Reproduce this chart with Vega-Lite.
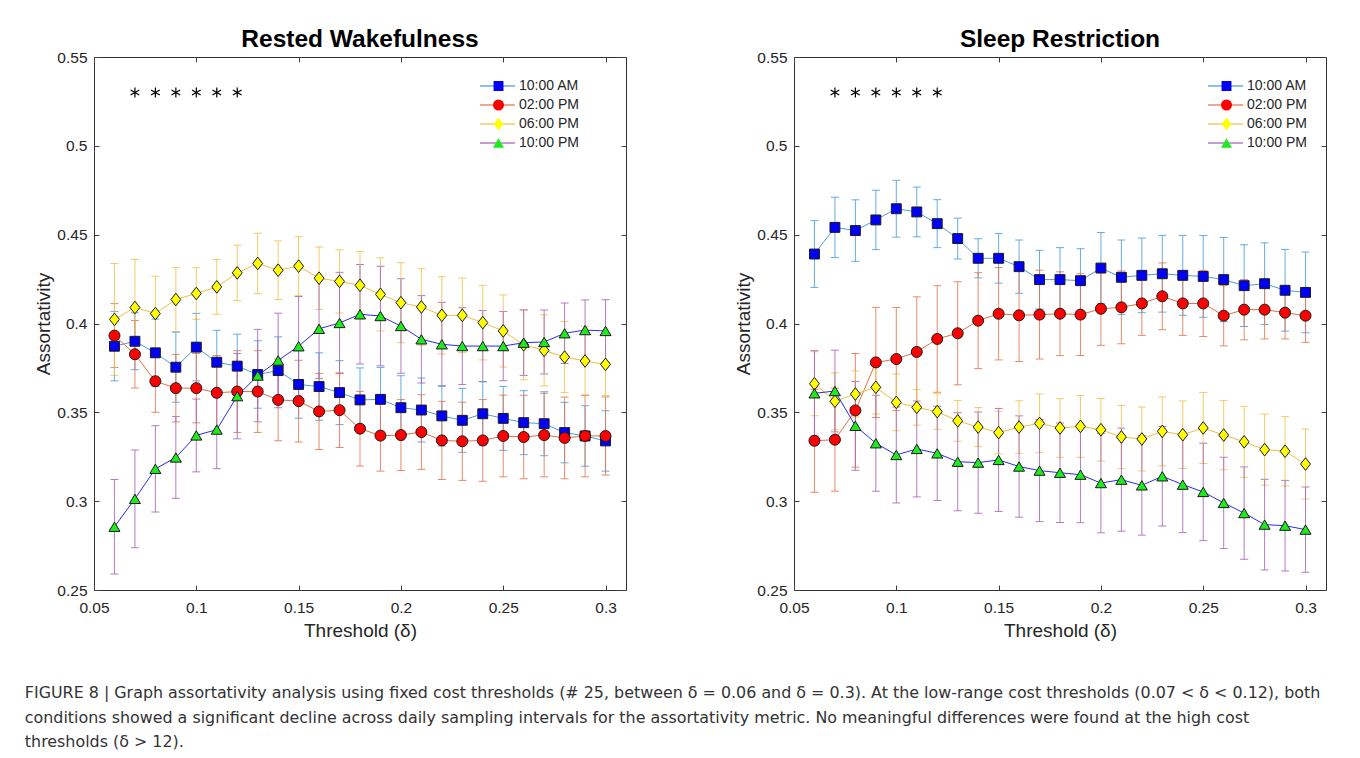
{
  "$schema": "https://vega.github.io/schema/vega-lite/v6.json",
  "padding": {"left": 24, "top": 26, "right": 0, "bottom": 0},
  "config": {
    "font": "Liberation Sans",
    "view": {"stroke": "#333333", "strokeWidth": 1},
    "axis": {"grid": false, "domain": false, "labelFont": "Liberation Sans", "labelFontSize": 15.5, "labelColor": "#262626", "tickColor": "#404040", "tickSize": -5, "tickWidth": 1, "titleFont": "Liberation Sans", "titleFontSize": 19, "titleFontWeight": "normal", "titleColor": "#262626", "labelFlush": false, "labelOverlap": false},
    "legend": {"labelFont": "Liberation Sans", "labelFontSize": 14, "labelColor": "#262626"}
  },
  "title": {
    "text": [
      "FIGURE 8 | Graph assortativity analysis using fixed cost thresholds (# 25, between δ = 0.06 and δ = 0.3). At the low-range cost thresholds (0.07 < δ < 0.12), both",
      "conditions showed a significant decline across daily sampling intervals for the assortativity metric. No meaningful differences were found at the high cost",
      "thresholds (δ > 12)."
    ],
    "orient": "bottom", "anchor": "start", "frame": "bounds", "offset": 44, "dx": -9.5,
    "fontSize": 15.9, "fontWeight": "normal", "lineHeight": 24.5, "color": "#333333", "font": "DejaVu Sans"
  },
  "datasets": {
    "stars": [
      {"threshold": 0.07, "value": 0.53}, {"threshold": 0.08, "value": 0.53}, {"threshold": 0.09, "value": 0.53},
      {"threshold": 0.1, "value": 0.53}, {"threshold": 0.11, "value": 0.53}, {"threshold": 0.12, "value": 0.53}
    ],
    "rw": [
      {"threshold":0.06,"time":"10:00 AM","value":0.3872,"err":0.0195},
      {"threshold":0.07,"time":"10:00 AM","value":0.3900,"err":0.016},
      {"threshold":0.08,"time":"10:00 AM","value":0.3835,"err":0.019},
      {"threshold":0.09,"time":"10:00 AM","value":0.3754,"err":0.0197},
      {"threshold":0.10,"time":"10:00 AM","value":0.3867,"err":0.019},
      {"threshold":0.11,"time":"10:00 AM","value":0.3782,"err":0.018},
      {"threshold":0.12,"time":"10:00 AM","value":0.3760,"err":0.018},
      {"threshold":0.13,"time":"10:00 AM","value":0.3713,"err":0.019},
      {"threshold":0.14,"time":"10:00 AM","value":0.3735,"err":0.019},
      {"threshold":0.15,"time":"10:00 AM","value":0.3657,"err":0.019},
      {"threshold":0.16,"time":"10:00 AM","value":0.3645,"err":0.019},
      {"threshold":0.17,"time":"10:00 AM","value":0.3611,"err":0.018},
      {"threshold":0.18,"time":"10:00 AM","value":0.3570,"err":0.018},
      {"threshold":0.19,"time":"10:00 AM","value":0.3573,"err":0.018},
      {"threshold":0.20,"time":"10:00 AM","value":0.3526,"err":0.018},
      {"threshold":0.21,"time":"10:00 AM","value":0.3513,"err":0.018},
      {"threshold":0.22,"time":"10:00 AM","value":0.3480,"err":0.017},
      {"threshold":0.23,"time":"10:00 AM","value":0.3455,"err":0.018},
      {"threshold":0.24,"time":"10:00 AM","value":0.3492,"err":0.018},
      {"threshold":0.25,"time":"10:00 AM","value":0.3466,"err":0.018},
      {"threshold":0.26,"time":"10:00 AM","value":0.3442,"err":0.018},
      {"threshold":0.27,"time":"10:00 AM","value":0.3436,"err":0.018},
      {"threshold":0.28,"time":"10:00 AM","value":0.3386,"err":0.017},
      {"threshold":0.29,"time":"10:00 AM","value":0.3367,"err":0.017},
      {"threshold":0.30,"time":"10:00 AM","value":0.3339,"err":0.017},
      {"threshold":0.06,"time":"02:00 PM","value":0.3932,"err":0.018},
      {"threshold":0.07,"time":"02:00 PM","value":0.3827,"err":0.019},
      {"threshold":0.08,"time":"02:00 PM","value":0.3675,"err":0.0175},
      {"threshold":0.09,"time":"02:00 PM","value":0.3636,"err":0.019},
      {"threshold":0.10,"time":"02:00 PM","value":0.3636,"err":0.0195},
      {"threshold":0.11,"time":"02:00 PM","value":0.3610,"err":0.021},
      {"threshold":0.12,"time":"02:00 PM","value":0.3617,"err":0.023},
      {"threshold":0.13,"time":"02:00 PM","value":0.3617,"err":0.023},
      {"threshold":0.14,"time":"02:00 PM","value":0.3570,"err":0.023},
      {"threshold":0.15,"time":"02:00 PM","value":0.3563,"err":0.023},
      {"threshold":0.16,"time":"02:00 PM","value":0.3505,"err":0.0214},
      {"threshold":0.17,"time":"02:00 PM","value":0.3512,"err":0.021},
      {"threshold":0.18,"time":"02:00 PM","value":0.3408,"err":0.021},
      {"threshold":0.19,"time":"02:00 PM","value":0.3369,"err":0.020},
      {"threshold":0.20,"time":"02:00 PM","value":0.3372,"err":0.020},
      {"threshold":0.21,"time":"02:00 PM","value":0.3389,"err":0.021},
      {"threshold":0.22,"time":"02:00 PM","value":0.3342,"err":0.022},
      {"threshold":0.23,"time":"02:00 PM","value":0.3337,"err":0.022},
      {"threshold":0.24,"time":"02:00 PM","value":0.3342,"err":0.023},
      {"threshold":0.25,"time":"02:00 PM","value":0.3367,"err":0.023},
      {"threshold":0.26,"time":"02:00 PM","value":0.3361,"err":0.0235},
      {"threshold":0.27,"time":"02:00 PM","value":0.3372,"err":0.0235},
      {"threshold":0.28,"time":"02:00 PM","value":0.3356,"err":0.023},
      {"threshold":0.29,"time":"02:00 PM","value":0.3367,"err":0.023},
      {"threshold":0.30,"time":"02:00 PM","value":0.3367,"err":0.022},
      {"threshold":0.06,"time":"06:00 PM","value":0.4023,"err":0.0315},
      {"threshold":0.07,"time":"06:00 PM","value":0.4090,"err":0.027},
      {"threshold":0.08,"time":"06:00 PM","value":0.4056,"err":0.021},
      {"threshold":0.09,"time":"06:00 PM","value":0.4135,"err":0.018},
      {"threshold":0.10,"time":"06:00 PM","value":0.4169,"err":0.0145},
      {"threshold":0.11,"time":"06:00 PM","value":0.4206,"err":0.0154},
      {"threshold":0.12,"time":"06:00 PM","value":0.4285,"err":0.0156},
      {"threshold":0.13,"time":"06:00 PM","value":0.4338,"err":0.017},
      {"threshold":0.14,"time":"06:00 PM","value":0.4300,"err":0.0165},
      {"threshold":0.15,"time":"06:00 PM","value":0.4323,"err":0.0166},
      {"threshold":0.16,"time":"06:00 PM","value":0.4255,"err":0.0176},
      {"threshold":0.17,"time":"06:00 PM","value":0.4237,"err":0.0178},
      {"threshold":0.18,"time":"06:00 PM","value":0.4215,"err":0.019},
      {"threshold":0.19,"time":"06:00 PM","value":0.4164,"err":0.0206},
      {"threshold":0.20,"time":"06:00 PM","value":0.4117,"err":0.0225},
      {"threshold":0.21,"time":"06:00 PM","value":0.4093,"err":0.0216},
      {"threshold":0.22,"time":"06:00 PM","value":0.4046,"err":0.0218},
      {"threshold":0.23,"time":"06:00 PM","value":0.4046,"err":0.021},
      {"threshold":0.24,"time":"06:00 PM","value":0.4005,"err":0.021},
      {"threshold":0.25,"time":"06:00 PM","value":0.3958,"err":0.0203},
      {"threshold":0.26,"time":"06:00 PM","value":0.3880,"err":0.0197},
      {"threshold":0.27,"time":"06:00 PM","value":0.3849,"err":0.020},
      {"threshold":0.28,"time":"06:00 PM","value":0.3811,"err":0.020},
      {"threshold":0.29,"time":"06:00 PM","value":0.3789,"err":0.0195},
      {"threshold":0.30,"time":"06:00 PM","value":0.3770,"err":0.0175},
      {"threshold":0.06,"time":"10:00 PM","value":0.2856,"err":0.0266},
      {"threshold":0.07,"time":"10:00 PM","value":0.3013,"err":0.0275},
      {"threshold":0.08,"time":"10:00 PM","value":0.3182,"err":0.0243},
      {"threshold":0.09,"time":"10:00 PM","value":0.3246,"err":0.023},
      {"threshold":0.10,"time":"10:00 PM","value":0.3370,"err":0.0205},
      {"threshold":0.11,"time":"10:00 PM","value":0.3403,"err":0.022},
      {"threshold":0.12,"time":"10:00 PM","value":0.3591,"err":0.024},
      {"threshold":0.13,"time":"10:00 PM","value":0.3707,"err":0.026},
      {"threshold":0.14,"time":"10:00 PM","value":0.3792,"err":0.0266},
      {"threshold":0.15,"time":"10:00 PM","value":0.3872,"err":0.028},
      {"threshold":0.16,"time":"10:00 PM","value":0.3970,"err":0.028},
      {"threshold":0.17,"time":"10:00 PM","value":0.4003,"err":0.0285},
      {"threshold":0.18,"time":"10:00 PM","value":0.4052,"err":0.028},
      {"threshold":0.19,"time":"10:00 PM","value":0.4042,"err":0.028},
      {"threshold":0.20,"time":"10:00 PM","value":0.3986,"err":0.0266},
      {"threshold":0.21,"time":"10:00 PM","value":0.3911,"err":0.0246},
      {"threshold":0.22,"time":"10:00 PM","value":0.3883,"err":0.0236},
      {"threshold":0.23,"time":"10:00 PM","value":0.3873,"err":0.0216},
      {"threshold":0.24,"time":"10:00 PM","value":0.3873,"err":0.020},
      {"threshold":0.25,"time":"10:00 PM","value":0.3873,"err":0.0195},
      {"threshold":0.26,"time":"10:00 PM","value":0.3892,"err":0.0184},
      {"threshold":0.27,"time":"10:00 PM","value":0.3896,"err":0.018},
      {"threshold":0.28,"time":"10:00 PM","value":0.3945,"err":0.017},
      {"threshold":0.29,"time":"10:00 PM","value":0.3963,"err":0.017},
      {"threshold":0.30,"time":"10:00 PM","value":0.3958,"err":0.0176}
    ],
    "sr": [
      {"threshold":0.06,"time":"10:00 AM","value":0.4391,"err":0.0188},
      {"threshold":0.07,"time":"10:00 AM","value":0.4541,"err":0.017},
      {"threshold":0.08,"time":"10:00 AM","value":0.4523,"err":0.0173},
      {"threshold":0.09,"time":"10:00 AM","value":0.4583,"err":0.0167},
      {"threshold":0.10,"time":"10:00 AM","value":0.4646,"err":0.016},
      {"threshold":0.11,"time":"10:00 AM","value":0.4628,"err":0.014},
      {"threshold":0.12,"time":"10:00 AM","value":0.4562,"err":0.0135},
      {"threshold":0.13,"time":"10:00 AM","value":0.4478,"err":0.0115},
      {"threshold":0.14,"time":"10:00 AM","value":0.4367,"err":0.011},
      {"threshold":0.15,"time":"10:00 AM","value":0.4367,"err":0.014},
      {"threshold":0.16,"time":"10:00 AM","value":0.4320,"err":0.015},
      {"threshold":0.17,"time":"10:00 AM","value":0.4247,"err":0.0165},
      {"threshold":0.18,"time":"10:00 AM","value":0.4247,"err":0.018},
      {"threshold":0.19,"time":"10:00 AM","value":0.4241,"err":0.018},
      {"threshold":0.20,"time":"10:00 AM","value":0.4312,"err":0.020},
      {"threshold":0.21,"time":"10:00 AM","value":0.4260,"err":0.021},
      {"threshold":0.22,"time":"10:00 AM","value":0.4271,"err":0.021},
      {"threshold":0.23,"time":"10:00 AM","value":0.4280,"err":0.0216},
      {"threshold":0.24,"time":"10:00 AM","value":0.4271,"err":0.0225},
      {"threshold":0.25,"time":"10:00 AM","value":0.4265,"err":0.023},
      {"threshold":0.26,"time":"10:00 AM","value":0.4247,"err":0.0237},
      {"threshold":0.27,"time":"10:00 AM","value":0.4213,"err":0.023},
      {"threshold":0.28,"time":"10:00 AM","value":0.4224,"err":0.023},
      {"threshold":0.29,"time":"10:00 AM","value":0.4187,"err":0.023},
      {"threshold":0.30,"time":"10:00 AM","value":0.4175,"err":0.0227},
      {"threshold":0.06,"time":"02:00 PM","value":0.3340,"err":0.029},
      {"threshold":0.07,"time":"02:00 PM","value":0.3346,"err":0.029},
      {"threshold":0.08,"time":"02:00 PM","value":0.3511,"err":0.032},
      {"threshold":0.09,"time":"02:00 PM","value":0.3781,"err":0.031},
      {"threshold":0.10,"time":"02:00 PM","value":0.3800,"err":0.029},
      {"threshold":0.11,"time":"02:00 PM","value":0.3840,"err":0.031},
      {"threshold":0.12,"time":"02:00 PM","value":0.3913,"err":0.030},
      {"threshold":0.13,"time":"02:00 PM","value":0.3945,"err":0.029},
      {"threshold":0.14,"time":"02:00 PM","value":0.4016,"err":0.027},
      {"threshold":0.15,"time":"02:00 PM","value":0.4055,"err":0.026},
      {"threshold":0.16,"time":"02:00 PM","value":0.4046,"err":0.026},
      {"threshold":0.17,"time":"02:00 PM","value":0.4050,"err":0.025},
      {"threshold":0.18,"time":"02:00 PM","value":0.4055,"err":0.0236},
      {"threshold":0.19,"time":"02:00 PM","value":0.4050,"err":0.023},
      {"threshold":0.20,"time":"02:00 PM","value":0.4083,"err":0.0206},
      {"threshold":0.21,"time":"02:00 PM","value":0.4091,"err":0.0205},
      {"threshold":0.22,"time":"02:00 PM","value":0.4113,"err":0.018},
      {"threshold":0.23,"time":"02:00 PM","value":0.4153,"err":0.0188},
      {"threshold":0.24,"time":"02:00 PM","value":0.4113,"err":0.018},
      {"threshold":0.25,"time":"02:00 PM","value":0.4113,"err":0.0186},
      {"threshold":0.26,"time":"02:00 PM","value":0.4044,"err":0.017},
      {"threshold":0.27,"time":"02:00 PM","value":0.4078,"err":0.017},
      {"threshold":0.28,"time":"02:00 PM","value":0.4078,"err":0.0165},
      {"threshold":0.29,"time":"02:00 PM","value":0.4061,"err":0.0148},
      {"threshold":0.30,"time":"02:00 PM","value":0.4044,"err":0.015},
      {"threshold":0.06,"time":"06:00 PM","value":0.3661,"err":0.018},
      {"threshold":0.07,"time":"06:00 PM","value":0.3562,"err":0.016},
      {"threshold":0.08,"time":"06:00 PM","value":0.3603,"err":0.013},
      {"threshold":0.09,"time":"06:00 PM","value":0.3641,"err":0.015},
      {"threshold":0.10,"time":"06:00 PM","value":0.3556,"err":0.016},
      {"threshold":0.11,"time":"06:00 PM","value":0.3528,"err":0.010},
      {"threshold":0.12,"time":"06:00 PM","value":0.3504,"err":0.010},
      {"threshold":0.13,"time":"06:00 PM","value":0.3452,"err":0.0115},
      {"threshold":0.14,"time":"06:00 PM","value":0.3417,"err":0.011},
      {"threshold":0.15,"time":"06:00 PM","value":0.3386,"err":0.012},
      {"threshold":0.16,"time":"06:00 PM","value":0.3417,"err":0.0148},
      {"threshold":0.17,"time":"06:00 PM","value":0.3438,"err":0.0165},
      {"threshold":0.18,"time":"06:00 PM","value":0.3412,"err":0.0165},
      {"threshold":0.19,"time":"06:00 PM","value":0.3421,"err":0.0174},
      {"threshold":0.20,"time":"06:00 PM","value":0.3402,"err":0.0176},
      {"threshold":0.21,"time":"06:00 PM","value":0.3361,"err":0.0178},
      {"threshold":0.22,"time":"06:00 PM","value":0.3350,"err":0.018},
      {"threshold":0.23,"time":"06:00 PM","value":0.3393,"err":0.0194},
      {"threshold":0.24,"time":"06:00 PM","value":0.3374,"err":0.019},
      {"threshold":0.25,"time":"06:00 PM","value":0.3412,"err":0.020},
      {"threshold":0.26,"time":"06:00 PM","value":0.3372,"err":0.0195},
      {"threshold":0.27,"time":"06:00 PM","value":0.3334,"err":0.020},
      {"threshold":0.28,"time":"06:00 PM","value":0.3290,"err":0.020},
      {"threshold":0.29,"time":"06:00 PM","value":0.3281,"err":0.0195},
      {"threshold":0.30,"time":"06:00 PM","value":0.3209,"err":0.0197},
      {"threshold":0.06,"time":"10:00 PM","value":0.3607,"err":0.024},
      {"threshold":0.07,"time":"10:00 PM","value":0.3620,"err":0.023},
      {"threshold":0.08,"time":"10:00 PM","value":0.3424,"err":0.025},
      {"threshold":0.09,"time":"10:00 PM","value":0.3326,"err":0.027},
      {"threshold":0.10,"time":"10:00 PM","value":0.3260,"err":0.027},
      {"threshold":0.11,"time":"10:00 PM","value":0.3294,"err":0.027},
      {"threshold":0.12,"time":"10:00 PM","value":0.3269,"err":0.0265},
      {"threshold":0.13,"time":"10:00 PM","value":0.3222,"err":0.0276},
      {"threshold":0.14,"time":"10:00 PM","value":0.3217,"err":0.0285},
      {"threshold":0.15,"time":"10:00 PM","value":0.3232,"err":0.029},
      {"threshold":0.16,"time":"10:00 PM","value":0.3195,"err":0.0285},
      {"threshold":0.17,"time":"10:00 PM","value":0.3172,"err":0.0287},
      {"threshold":0.18,"time":"10:00 PM","value":0.3160,"err":0.028},
      {"threshold":0.19,"time":"10:00 PM","value":0.3149,"err":0.027},
      {"threshold":0.20,"time":"10:00 PM","value":0.3102,"err":0.028},
      {"threshold":0.21,"time":"10:00 PM","value":0.3121,"err":0.029},
      {"threshold":0.22,"time":"10:00 PM","value":0.3089,"err":0.028},
      {"threshold":0.23,"time":"10:00 PM","value":0.3140,"err":0.028},
      {"threshold":0.24,"time":"10:00 PM","value":0.3093,"err":0.027},
      {"threshold":0.25,"time":"10:00 PM","value":0.3052,"err":0.0274},
      {"threshold":0.26,"time":"10:00 PM","value":0.2990,"err":0.0257},
      {"threshold":0.27,"time":"10:00 PM","value":0.2933,"err":0.026},
      {"threshold":0.28,"time":"10:00 PM","value":0.2868,"err":0.0255},
      {"threshold":0.29,"time":"10:00 PM","value":0.2862,"err":0.0255},
      {"threshold":0.30,"time":"10:00 PM","value":0.2840,"err":0.024}
    ]
  },
  "bounds": "flush",
  "spacing": 168,
  "resolve": {
    "scale": {"color": "independent", "fill": "independent", "shape": "independent", "stroke": "independent"},
    "legend": {"color": "independent", "fill": "independent", "shape": "independent"}
  },
  "hconcat": [
    {
      "width": 532, "height": 533,
      "title": {"text": "Rested Wakefulness", "fontSize": 24.5, "fontWeight": "bold", "color": "#000000", "anchor": "middle", "frame": "group", "baseline": "alphabetic", "offset": -21},
      "data": {"name": "rw"},
      "resolve": {"axis": {"x": "independent", "y": "independent"}},
      "layer": [
        {
          "mark": {"type": "errorbar", "ticks": {"size": 8}, "opacity": 0.85},
          "encoding": {
            "x": {"field": "threshold", "type": "quantitative", "scale": {"domain": [0.05, 0.31], "nice": false, "zero": false},
                  "axis": {"orient": "bottom", "values": [0.05, 0.1, 0.15, 0.2, 0.25, 0.3], "format": "~g", "title": "Threshold (δ)", "labelPadding": 15, "titlePadding": 6}},
            "y": {"field": "value", "type": "quantitative", "scale": {"domain": [0.25, 0.55], "nice": false, "zero": false},
                  "axis": {"orient": "left", "values": [0.25, 0.3, 0.35, 0.4, 0.45, 0.5, 0.55], "format": "~g", "title": "Assortativity", "labelPadding": 12, "titlePadding": 3}},
            "yError": {"field": "err"},
            "color": {"field": "time", "type": "nominal", "sort": ["10:00 AM", "02:00 PM", "06:00 PM", "10:00 PM"],
                      "scale": {"range": ["#4A9FDA", "#E3784E", "#F1C24F", "#A865B8"]},
                      "legend": {"orient": "none", "legendX": 385, "legendY": 19.5, "title": null, "symbolType": "stroke", "symbolSize": 1225, "symbolStrokeWidth": 1.5, "labelOffset": 3, "padding": 0, "rowPadding": 0, "clipHeight": 19}}
          }
        },
        {
          "mark": {"type": "line", "strokeWidth": 1},
          "encoding": {
            "x": {"field": "threshold", "type": "quantitative", "axis": {"orient": "top", "values": [0.05, 0.1, 0.15, 0.2, 0.25, 0.3], "labels": false, "title": null}},
            "y": {"field": "value", "type": "quantitative", "axis": {"orient": "right", "values": [0.25, 0.3, 0.35, 0.4, 0.45, 0.5, 0.55], "labels": false, "title": null}},
            "stroke": {"field": "time", "type": "nominal", "sort": ["10:00 AM", "02:00 PM", "06:00 PM", "10:00 PM"],
                       "scale": {"range": ["#4C9FD8", "#DF6F45", "#F0BD40", "#2B2BEE"]},
                       "legend": null}
          }
        },
        {
          "mark": {"type": "point", "filled": true, "stroke": "#1a1a1a", "strokeWidth": 1, "opacity": 1, "size": 121},
          "encoding": {
            "x": {"field": "threshold", "type": "quantitative", "axis": null},
            "y": {"field": "value", "type": "quantitative", "axis": null},
            "fill": {"field": "time", "type": "nominal",
                     "scale": {"domain": ["10:00 AM", "02:00 PM", "06:00 PM", "10:00 PM"], "range": ["#0000F5", "#FF0000", "#FFFF00", "#1DEB1D"]},
                     "legend": {"orient": "none", "legendX": 385, "legendY": 19.5, "title": null, "symbolSize": 121, "symbolStrokeColor": "#1a1a1a", "symbolStrokeWidth": 1, "symbolOffset": 12.5, "labelExpr": "''", "labelOffset": 3, "padding": 0, "rowPadding": 0, "clipHeight": 19}},
            "shape": {"field": "time", "type": "nominal",
                      "scale": {"domain": ["10:00 AM", "02:00 PM", "06:00 PM", "10:00 PM"], "range": ["M-0.9,-0.9L0.9,-0.9L0.9,0.9L-0.9,0.9Z", "circle", "M0,-1.15L0.9,0L0,1.15L-0.9,0Z", "M0,-0.85L1,0.85L-1,0.85Z"]},
                      "legend": {"orient": "none", "legendX": 385, "legendY": 19.5, "title": null, "symbolSize": 121, "symbolStrokeColor": "#1a1a1a", "symbolStrokeWidth": 1, "symbolOffset": 12.5, "labelExpr": "''", "labelOffset": 3, "padding": 0, "rowPadding": 0, "clipHeight": 19}}
          }
        },
        {
          "data": {"name": "stars"},
          "mark": {"type": "point", "shape": "M0,-1L0,1M-0.87,-0.5L0.87,0.5M-0.87,0.5L0.87,-0.5", "filled": false, "stroke": "#000000", "strokeWidth": 1.2, "size": 100, "opacity": 1},
          "encoding": {
            "x": {"field": "threshold", "type": "quantitative", "axis": null},
            "y": {"field": "value", "type": "quantitative", "axis": null}
          }
        }
      ]
    },
    {
      "width": 532, "height": 533,
      "title": {"text": "Sleep Restriction", "fontSize": 24.5, "fontWeight": "bold", "color": "#000000", "anchor": "middle", "frame": "group", "baseline": "alphabetic", "offset": -21},
      "data": {"name": "sr"},
      "resolve": {"axis": {"x": "independent", "y": "independent"}},
      "layer": [
        {
          "mark": {"type": "errorbar", "ticks": {"size": 8}, "opacity": 0.85},
          "encoding": {
            "x": {"field": "threshold", "type": "quantitative", "scale": {"domain": [0.05, 0.31], "nice": false, "zero": false},
                  "axis": {"orient": "bottom", "values": [0.05, 0.1, 0.15, 0.2, 0.25, 0.3], "format": "~g", "title": "Threshold (δ)", "labelPadding": 15, "titlePadding": 6}},
            "y": {"field": "value", "type": "quantitative", "scale": {"domain": [0.25, 0.55], "nice": false, "zero": false},
                  "axis": {"orient": "left", "values": [0.25, 0.3, 0.35, 0.4, 0.45, 0.5, 0.55], "format": "~g", "title": "Assortativity", "labelPadding": 12, "titlePadding": 3}},
            "yError": {"field": "err"},
            "color": {"field": "time", "type": "nominal", "sort": ["10:00 AM", "02:00 PM", "06:00 PM", "10:00 PM"],
                      "scale": {"range": ["#4A9FDA", "#E3784E", "#F1C24F", "#A865B8"]},
                      "legend": {"orient": "none", "legendX": 413, "legendY": 19.5, "title": null, "symbolType": "stroke", "symbolSize": 1225, "symbolStrokeWidth": 1.5, "labelOffset": 3, "padding": 0, "rowPadding": 0, "clipHeight": 19}}
          }
        },
        {
          "mark": {"type": "line", "strokeWidth": 1},
          "encoding": {
            "x": {"field": "threshold", "type": "quantitative", "axis": {"orient": "top", "values": [0.05, 0.1, 0.15, 0.2, 0.25, 0.3], "labels": false, "title": null}},
            "y": {"field": "value", "type": "quantitative", "axis": {"orient": "right", "values": [0.25, 0.3, 0.35, 0.4, 0.45, 0.5, 0.55], "labels": false, "title": null}},
            "stroke": {"field": "time", "type": "nominal", "sort": ["10:00 AM", "02:00 PM", "06:00 PM", "10:00 PM"],
                       "scale": {"range": ["#4C9FD8", "#DF6F45", "#F0BD40", "#2B2BEE"]},
                       "legend": null}
          }
        },
        {
          "mark": {"type": "point", "filled": true, "stroke": "#1a1a1a", "strokeWidth": 1, "opacity": 1, "size": 121},
          "encoding": {
            "x": {"field": "threshold", "type": "quantitative", "axis": null},
            "y": {"field": "value", "type": "quantitative", "axis": null},
            "fill": {"field": "time", "type": "nominal",
                     "scale": {"domain": ["10:00 AM", "02:00 PM", "06:00 PM", "10:00 PM"], "range": ["#0000F5", "#FF0000", "#FFFF00", "#1DEB1D"]},
                     "legend": {"orient": "none", "legendX": 413, "legendY": 19.5, "title": null, "symbolSize": 121, "symbolStrokeColor": "#1a1a1a", "symbolStrokeWidth": 1, "symbolOffset": 12.5, "labelExpr": "''", "labelOffset": 3, "padding": 0, "rowPadding": 0, "clipHeight": 19}},
            "shape": {"field": "time", "type": "nominal",
                      "scale": {"domain": ["10:00 AM", "02:00 PM", "06:00 PM", "10:00 PM"], "range": ["M-0.9,-0.9L0.9,-0.9L0.9,0.9L-0.9,0.9Z", "circle", "M0,-1.15L0.9,0L0,1.15L-0.9,0Z", "M0,-0.85L1,0.85L-1,0.85Z"]},
                      "legend": {"orient": "none", "legendX": 413, "legendY": 19.5, "title": null, "symbolSize": 121, "symbolStrokeColor": "#1a1a1a", "symbolStrokeWidth": 1, "symbolOffset": 12.5, "labelExpr": "''", "labelOffset": 3, "padding": 0, "rowPadding": 0, "clipHeight": 19}}
          }
        },
        {
          "data": {"name": "stars"},
          "mark": {"type": "point", "shape": "M0,-1L0,1M-0.87,-0.5L0.87,0.5M-0.87,0.5L0.87,-0.5", "filled": false, "stroke": "#000000", "strokeWidth": 1.2, "size": 100, "opacity": 1},
          "encoding": {
            "x": {"field": "threshold", "type": "quantitative", "axis": null},
            "y": {"field": "value", "type": "quantitative", "axis": null}
          }
        }
      ]
    }
  ]
}
